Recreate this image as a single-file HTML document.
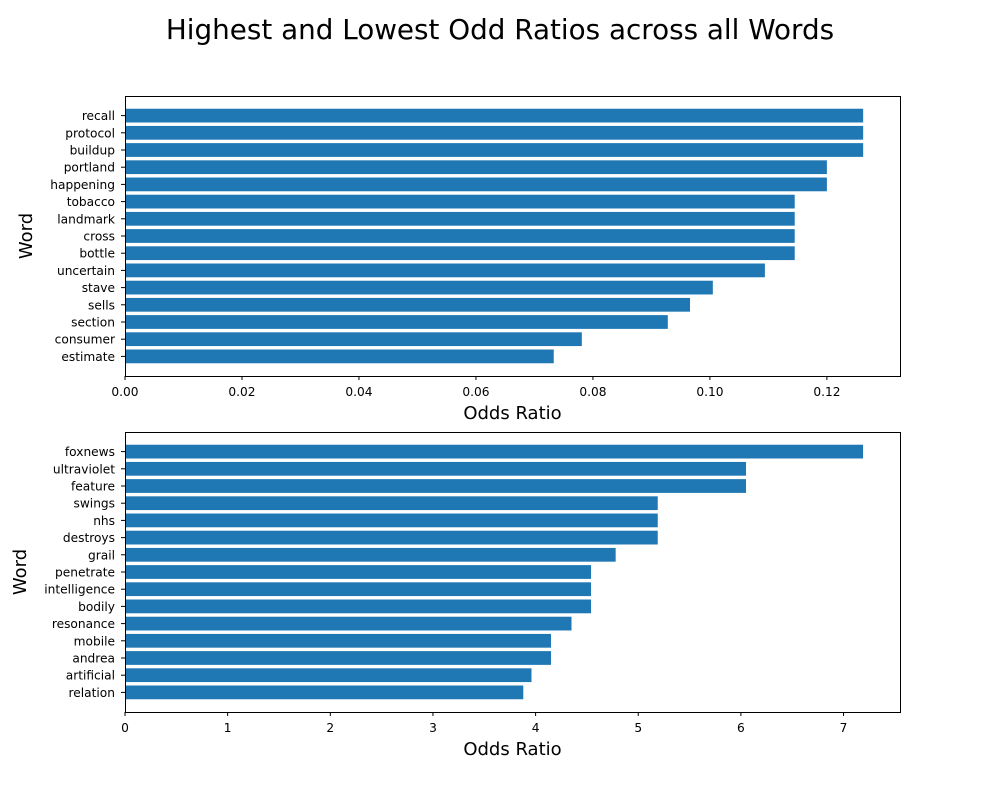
<!DOCTYPE html>
<html><head><meta charset="utf-8"><style>
body{margin:0;background:#fff;font-family:"DejaVu Sans","Liberation Sans",sans-serif;}
svg text{font-family:"DejaVu Sans","Liberation Sans",sans-serif;}
</style></head><body>
<svg id="chart" width="1000" height="800" xmlns="http://www.w3.org/2000/svg">
<text x="500" y="39" text-anchor="middle" font-size="27.8">Highest and Lowest Odd Ratios across all Words</text>
</svg>
<script>
const topWords=["recall","protocol","buildup","portland","happening","tobacco","landmark","cross","bottle","uncertain","stave","sells","section","consumer","estimate"];
const topValues=[0.1262,0.1262,0.1262,0.12,0.12,0.1145,0.1145,0.1145,0.1145,0.1094,0.1005,0.0966,0.0928,0.0781,0.0733];
const topTicks=[0,0.02,0.04,0.06,0.08,0.10,0.12];
const topTickLabels=["0.00","0.02","0.04","0.06","0.08","0.10","0.12"];
const botWords=["foxnews","ultraviolet","feature","swings","nhs","destroys","grail","penetrate","intelligence","bodily","resonance","mobile","andrea","artificial","relation"];
const botValues=[7.19,6.05,6.05,5.19,5.19,5.19,4.78,4.54,4.54,4.54,4.35,4.15,4.15,3.96,3.88];
const botTicks=[0,1,2,3,4,5,6,7];
const botTickLabels=["0","1","2","3","4","5","6","7"];
const NS="http://www.w3.org/2000/svg";
const svg=document.getElementById('chart');
function mk(tag,attrs,parent){const e=document.createElementNS(NS,tag);for(const k in attrs)e.setAttribute(k,attrs[k]);(parent||svg).appendChild(e);return e;}
function panel(words,vals,ticks,labels,top,xmax,prefix){
  const L=125,R=900,T=top,B=top+280;
  const g=mk('g',{});
  
  
  const x=v=>L+v/xmax*(R-L);
  const n=words.length;
  const y0=-1.14,y1=n-1+1.14;
  const y=i=>T+(i-y0)/(y1-y0)*(B-T);
  const bh=0.8/(y1-y0)*(B-T);
  words.forEach((w,i)=>{
    const r=mk('rect',{x:L,y:y(i)-bh/2,width:x(vals[i])-L,height:bh,fill:'#1f77b4'},g);
    
    
    mk('line',{x1:L-4,x2:L,y1:y(i),y2:y(i),stroke:'#000','stroke-width':1},g);
    const t=mk('text',{x:L-10,y:y(i)+4.5,'text-anchor':'end','font-size':12.2},g);
    t.textContent=w;
    
    
  });
  ticks.forEach((v,i)=>{
    mk('line',{x1:x(v),x2:x(v),y1:B,y2:B+4,stroke:'#000','stroke-width':1},g);
    const t=mk('text',{x:x(v),y:B+20,'text-anchor':'middle','font-size':12.2},g);
    t.textContent=labels[i];
    
    
  });
  const fr=mk('rect',{x:L+0.5,y:T+0.5,width:R-L,height:B-T,fill:'none',stroke:'#000','stroke-width':1},g);
  
  
  const xt=mk('text',{x:(L+R)/2,y:B+43,'text-anchor':'middle','font-size':18},g);
  xt.textContent='Odds Ratio';
  
  
  const yt=mk('text',{x:0,y:0,'text-anchor':'middle','font-size':18,transform:`translate(${prefix==='top'?32:26},${(T+B)/2}) rotate(-90)`},g);
  yt.textContent='Word';
  
  
}
panel(topWords,topValues,topTicks,topTickLabels,96,0.1325,'top');
panel(botWords,botValues,botTicks,botTickLabels,432,7.55,'bottom');
</script>
</body></html>
